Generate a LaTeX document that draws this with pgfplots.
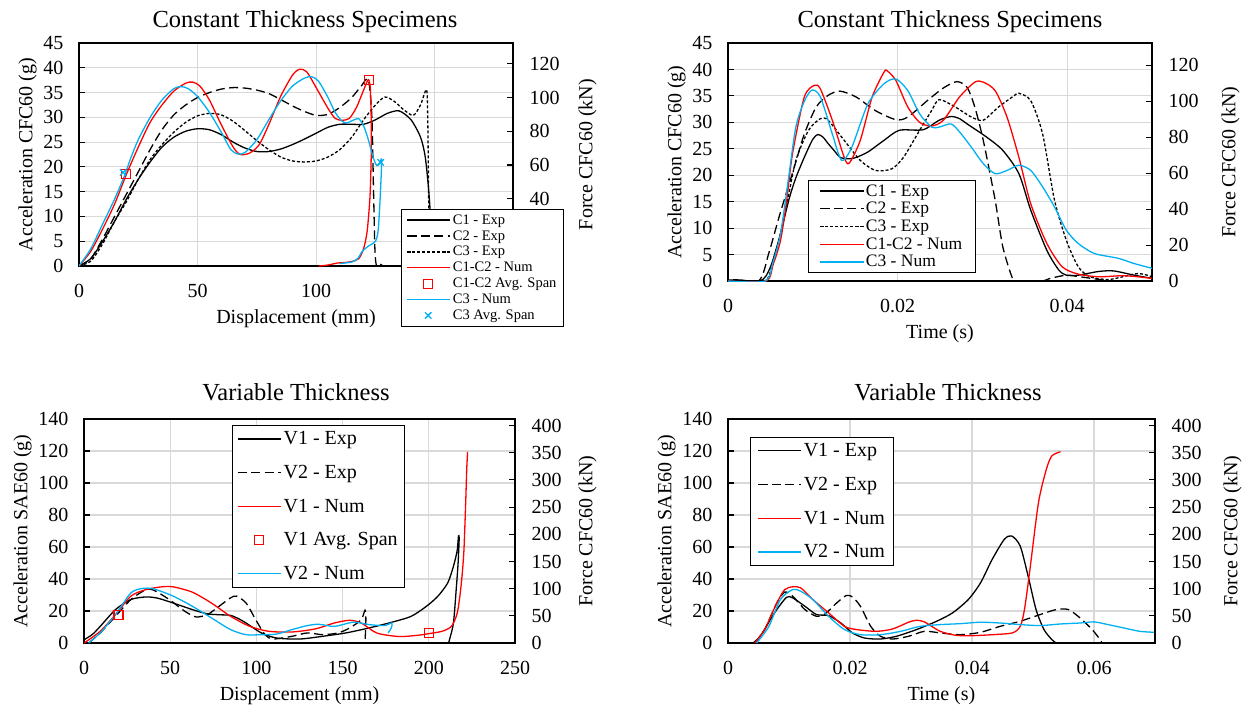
\documentclass[border=0pt]{standalone}
\usepackage{fontspec}
\setmainfont{Liberation Serif}
\usepackage{pgfplots}
\pgfplotsset{compat=1.18}
\definecolor{numred}{HTML}{FF0000}
\definecolor{numcyan}{HTML}{00B0F0}
\definecolor{gridgray}{HTML}{D9D9D9}
\newcommand\fs[2]{\fontsize{#1}{#2}\selectfont}

\pgfplotsset{
  lax/.style={scale only axis, anchor=north west,
    axis line style={line width=1.1pt},
    grid=major, grid style={line width=1.1pt, gridgray},
    xtick style={draw=none}, ytick style={black, line width=1.1pt},
    major tick length=6pt, ytick pos=left,
    tick label style={font=\fs{20}{24}}, label style={font=\fs{20}{24}},
    xticklabel shift=15pt, yticklabel shift=12pt, xlabel shift=5pt,
    /pgf/number format/assume math mode=true},
  rax/.style={scale only axis, anchor=north west,
    axis y line*=right, axis x line=none, xtick=\empty,
    axis line style={line width=1.1pt},
    ytick style={black, line width=1.1pt}, major tick length=6pt,
    tick label style={font=\fs{20}{24}}, label style={font=\fs{20}{24}},
    yticklabel shift=13pt, ylabel shift=12pt,
    legend cell align=left,
    legend style={draw=black, line width=1pt, fill=white, anchor=north west},
    legend image code/.code={\draw[line width=1.3pt,mark repeat=2,mark phase=2,##1]
      plot coordinates {(0pt,0pt) (21pt,0pt) (43pt,0pt)};},
    every axis plot/.append style={line width=1.3pt, smooth, tension=0.45}},
  exp1/.style={black, solid},
  exp2/.style={black, dash pattern=on 9pt off 4.5pt},
  exp3/.style={black, dash pattern=on 3pt off 2pt},
  numr/.style={numred, solid},
  numc/.style={numcyan, solid},
  avgsq/.style={only marks, mark=square, mark size=4.5pt, numred, line width=1.1pt, solid},
  avgx/.style={only marks, mark=x, mark size=4.5pt, numcyan, line width=1.3pt, solid},
}

\begin{document}
\begin{tikzpicture}
\useasboundingbox (0pt,0pt) rectangle (1245pt,-710pt);

% titles
\node[font=\fs{24.5}{28}] at (305pt,-22pt) {Constant Thickness Specimens};
\node[font=\fs{24.5}{28}] at (950pt,-22pt) {Constant Thickness Specimens};
\node[font=\fs{24.5}{28}] at (296pt,-392pt) {Variable Thickness};
\node[font=\fs{24.5}{28}] at (948pt,-392pt) {Variable Thickness};

% ---------- top left ----------
\begin{axis}[lax, at={(79pt,-43pt)}, width=434pt, height=223pt,
  xmin=0, xmax=183, ymin=0, ymax=45,
  xtick={0,50,100,150}, xticklabels={0,50,100,},
  ytick={0,5,...,45},
  xlabel={Displacement (mm)}, ylabel={Acceleration CFC60 (g)}]
\end{axis}
\begin{axis}[rax, at={(79pt,-43pt)}, width=434pt, height=223pt,
  xmin=0, xmax=183, ymin=0, ymax=45,
  ytick={0,6.796,13.592,20.388,27.184,33.98,40.776},
  yticklabels={,,40,60,80,100,120},
  ylabel={Force CFC60 (kN)},
  legend style={at={(0.742,0.2556)}, font=\fs{14.5}{16.5}, row sep=0.8pt, inner xsep=5pt, inner ysep=3pt}]
\addplot[exp1] coordinates {(0,0) (5,1.5) (10,5) (15,9) (20,13.5) (25,17.5) (30,21) (35,24) (40,26) (45,27.2) (50,27.7) (55,27.5) (60,26.5) (65,25) (70,23.8) (75,23.1) (80,23.1) (85,23.6) (90,24.5) (95,25.6) (100,26.8) (105,28) (110,28.6) (115,28.6) (120,28.6) (125,29.5) (130,30.8) (135,31.3) (140,29.5) (144,26) (146,22) (147.5,15) (148.5,8) (149.5,2) (150,0)};
\addlegendentry{C1 - Exp}
\addplot[exp2] coordinates {(0,0) (5,1.5) (10,5.5) (15,10) (20,14.5) (25,19) (30,23.5) (35,27.5) (40,30.5) (45,32.5) (50,34) (55,35) (60,35.7) (65,36) (70,35.9) (75,35.5) (80,34.8) (85,33.6) (90,32.3) (95,31.2) (100,30.4) (105,30.6) (110,32) (115,34) (119,36.3) (122,37.6) (123.5,30) (124.2,15) (124.8,3) (125.5,0) (127,0.4) (128,0)};
\addlegendentry{C2 - Exp}
\addplot[exp3] coordinates {(0,0) (5,1) (10,4.5) (15,9) (20,13) (25,17.5) (30,21.5) (35,24.5) (40,27) (45,29) (50,30.3) (55,30.8) (60,30.5) (65,29.2) (70,27.3) (75,25.3) (80,23.5) (85,22) (90,21.2) (95,21) (100,21.2) (105,22) (110,23.5) (115,26) (120,29.5) (125,32.5) (129,34.1) (133,33.2) (137,31.5) (141,30.4) (144,32.5) (146.5,35.6) (147,31) (147.3,20) (147.5,10) (147.8,0)};
\addlegendentry{C3 - Exp}
\addplot[numr] coordinates {(0,0) (5,3) (10,7.5) (15,12.5) (20,18.5) (25,24) (30,29) (35,32.5) (40,35.3) (45,36.9) (48,37.1) (51,36.3) (55,33.5) (60,28.5) (65,24) (68,22.5) (72,22.8) (76,24.5) (80,28.5) (85,34.2) (90,38.5) (93,39.7) (96,39.2) (100,36) (105,31.8) (108,29.8) (111,29.4) (114,29.8) (117,32) (120,35.5) (122,37.6) (122.8,36) (123.2,30) (123.2,22) (122.7,14) (121.5,7) (120,3.5) (118,1.5) (115,0.9) (112,0.7) (109,0.6) (105,0.2) (101,0)};
\addlegendentry{C1-C2 - Num}
\addplot[avgsq] coordinates {(19.8,18.5) (122.1,37.6)};
\addlegendentry{C1-C2 Avg. Span}
\addplot[numc] coordinates {(0,0) (5,3.5) (10,8.5) (15,13.5) (19,18) (22,22) (25,25.5) (30,30) (35,33.5) (40,35.8) (43,36.2) (46,35.8) (50,34.2) (55,31) (60,27) (64,23.5) (67,22.6) (70,22.9) (75,25.5) (80,29.5) (85,33.3) (90,36.3) (95,37.9) (98,38.2) (101,37.3) (105,34) (108,31) (111,29.2) (113,28.9) (116,29.5) (118,29.7) (120,28.3) (122,25.5) (124,22) (125.5,20.3) (126.8,20.8) (127.6,21.5) (127.4,18) (126.8,12) (126.1,7) (125,5) (122,4) (119.5,3) (117.5,1.5) (115,0.8) (112,0.6) (110,0.5)};
\addlegendentry{C3 - Num}
\addplot[avgx] coordinates {(18.6,18.9) (127.2,20.9)};
\addlegendentry{C3 Avg. Span}
\end{axis}

% ---------- top right ----------
\begin{axis}[lax, at={(728pt,-43pt)}, width=424pt, height=238pt,
  xmin=0, xmax=50, ymin=0, ymax=45,
  xtick={0,20,40}, xticklabels={0,0.02,0.04},
  ytick={0,5,...,45},
  xlabel={Time (s)}, ylabel={Acceleration CFC60 (g)}]
\end{axis}
\begin{axis}[rax, at={(728pt,-43pt)}, width=424pt, height=238pt,
  xmin=0, xmax=50, ymin=0, ymax=45,
  ytick={0,6.796,13.592,20.388,27.184,33.98,40.776},
  yticklabels={0,20,40,60,80,100,120},
  ylabel={Force CFC60 (kN)}, ylabel shift=16pt,
  legend style={at={(0.189,0.424)}, font=\fs{17.5}{20}, row sep=0.6pt, inner xsep=11pt, inner ysep=2pt}]
\addplot[exp1] coordinates {(0,0.2) (1.5,0.2) (2.5,0) (3.8,0) (4.5,1) (5.2,3.5) (6.2,9) (7.2,15.5) (8,19.5) (9,23.4) (10,26.8) (10.6,27.7) (11.2,27.2) (11.8,26) (12.6,24.5) (13.2,23.4) (14.1,23.1) (15,23.3) (16.5,24.4) (18.4,26.6) (20.2,28.5) (23,28.6) (24.9,30.4) (26.3,31.1) (27.3,30.7) (28.2,29.7) (30.5,27.2) (32.4,24.7) (34.3,20.3) (35.7,13.4) (37.6,5.8) (39,2.1) (39.9,1.1) (41.3,1.1) (43.7,1.8) (45.5,1.9) (47.9,1.1) (50,0.5)};
\addlegendentry{C1 - Exp}
\addplot[exp2] coordinates {(0,0) (3.6,0) (4.8,5.2) (6,12) (7.1,17.8) (8,22.5) (9,27.8) (10.4,32.9) (11.8,35.1) (13.2,35.9) (15.1,34.8) (17.4,32.2) (19.8,30.5) (21.2,31) (23.5,34.1) (25.4,36.5) (27,37.7) (28.2,36.6) (29.1,32.9) (30.1,26.6) (31.5,15.3) (32.4,6.5) (33.6,0.3) (34.3,0) (37,0) (38,0.5) (39.9,1.1) (41.5,0.8) (43.7,0.3) (45,0)};
\addlegendentry{C2 - Exp}
\addplot[exp3] coordinates {(0,0) (4.3,0) (5.2,3) (6.2,9) (7,15) (8,22.8) (9.5,28.5) (10.9,30.7) (11.8,30.4) (13.7,26.6) (15.6,22.8) (17.4,20.9) (19.3,21.2) (20.7,23.4) (22.6,28.5) (24,32.2) (24.9,34.3) (26.8,32.9) (28.7,31) (30.1,30.4) (31.9,32.9) (33.8,35.1) (34.3,35.5) (35.7,34.1) (37.1,27.8) (38.5,15.3) (39.9,7.7) (41.3,2.7) (42.7,0.8) (45,0.3) (48.3,1.4) (50,0.8)};
\addlegendentry{C3 - Exp}
\addplot[numr] coordinates {(0,0) (4.5,0) (5.3,3) (6.2,7.7) (6.9,15) (7.6,24) (9,34.8) (10.2,37) (10.9,36.3) (12.3,30.4) (13.7,23.4) (14.3,22.3) (15.6,26.6) (17,34.8) (18.4,39.5) (18.8,39.7) (19.8,37.9) (21.2,32.9) (22.6,30) (24,29.3) (25.4,30.4) (27.3,34.8) (29.1,37.6) (30.1,37.6) (31.5,36) (32.9,31) (34.3,23.4) (35.7,14.6) (37.6,7.1) (39.4,2.7) (41.3,1.3) (43.7,0.8) (46.5,1) (48.3,0.8) (50,0.5)};
\addlegendentry{C1-C2 - Num}
\addplot[numc] coordinates {(0,0) (4.4,0) (5.3,3.5) (6.2,9) (7.1,19) (8,29.1) (9,34) (9.9,36.1) (10.9,34.8) (12.3,27.8) (13.4,22.8) (14.6,25.3) (16.5,33.5) (18.4,37.3) (19.8,38.2) (21.2,36) (22.6,31.6) (24,29.1) (24.9,29.1) (26.3,29.7) (27.3,28.2) (28.7,25.3) (30.1,22.2) (31.5,20.3) (32.9,20.9) (34.3,21.9) (35.7,20.9) (37.1,17.8) (38.5,14) (39.9,9.6) (41.3,7.1) (43.2,5.2) (46,4.3) (47.9,3.3) (50,2.4)};
\addlegendentry{C3 - Num}
\end{axis}

% ---------- bottom left ----------
\begin{axis}[lax, at={(84pt,-419pt)}, width=431pt, height=224pt,
  xmin=0, xmax=250, ymin=0, ymax=140,
  xtick={0,50,...,250}, ytick={0,20,...,140},
  xlabel={Displacement (mm)}, ylabel={Acceleration SAE60 (g)}]
\end{axis}
\begin{axis}[rax, at={(84pt,-419pt)}, width=431pt, height=224pt,
  xmin=0, xmax=250, ymin=0, ymax=140,
  ytick={0,16.99,33.98,50.97,67.96,84.95,101.94,118.93,135.92},
  yticklabels={0,50,100,150,200,250,300,350,400},
  ylabel={Force CFC60 (kN)}, ylabel shift=10pt,
  legend style={at={(0.343,0.973)}, font=\fs{20}{24}, row sep=15pt, inner xsep=5pt, inner ysep=4pt}]
\addplot[exp1] coordinates {(0,2) (5,5.5) (9.4,10.4) (18.3,20.9) (27.2,27.2) (36,28.8) (42.8,28) (51.7,25) (62.8,20.9) (71.7,18.2) (80,17.6) (85,17.3) (90,15) (94,12.5) (102.9,6.3) (111.8,3.1) (125.2,2.5) (138.5,4.2) (151.9,6.3) (165.3,9.4) (178.6,13) (189.8,16.7) (198.7,23) (205.3,29.3) (211,37.6) (214.3,48) (216.5,58) (217.2,66.9) (217.6,65) (217,50) (216,35) (214.3,12.5) (212,2.1) (211.5,0)};
\addlegendentry{V1 - Exp}
\addplot[exp2] coordinates {(2.7,0) (9.4,6.3) (18.3,16.7) (27.2,27.2) (36,33.4) (40.5,33) (49.4,27.2) (58.4,19.9) (65,16.3) (71.7,17.8) (78.4,23) (85,28.2) (88.4,29.3) (94,25) (99.6,14.6) (105,5.2) (109.6,2.5) (120.7,4.2) (129.6,6.3) (138.5,5.2) (147.4,6.3) (154.1,9.4) (160.8,14.6) (163,20.5) (163.5,15) (163.2,5) (163,0)};
\addlegendentry{V2 - Exp}
\addplot[numr] coordinates {(0,0) (9.4,7.3) (18.3,17.8) (27.2,29.3) (36,33.4) (45,35.1) (51.7,35.1) (62.8,31.8) (73.9,25) (85,16.7) (96.2,10.4) (107.3,7.3) (120.7,6.9) (134.1,8.8) (145.2,12.5) (154.1,14.2) (160.8,12.5) (169.7,6.3) (180.8,4.2) (187.5,4.2) (196.4,5.2) (200.2,5.9) (207.6,7.3) (213.1,10.4) (216.5,18.8) (218.7,35.5) (220.3,56.4) (221.4,87.8) (222,108.7) (222.5,119.5)};
\addlegendentry{V1 - Num}
\addplot[avgsq] coordinates {(20,17.6) (200.2,6)};
\addlegendentry{V1 Avg. Span}
\addplot[numc] coordinates {(2.7,0) (9.4,6.3) (18.3,17.8) (27.2,31.3) (33.9,34.1) (40.5,33.8) (51.7,29.3) (62.8,23) (73.9,15.7) (85,8.4) (94,5.2) (102.9,5.2) (111.8,5.6) (120.7,8.4) (129.6,10.9) (136.3,11.7) (145.2,10.4) (156.3,13) (165.3,11.5) (174.2,10.9) (178.6,12.5) (178.2,9.4) (176.4,6.3)};
\addlegendentry{V2 - Num}
\end{axis}

% ---------- bottom right ----------
\begin{axis}[lax, at={(728pt,-419pt)}, width=427pt, height=224pt,
  xmin=0, xmax=70, ymin=0, ymax=140,
  xtick={0,20,40,60}, xticklabels={0,0.02,0.04,0.06},
  ytick={0,20,...,140},
  xlabel={Time (s)}, ylabel={Acceleration SAE60 (g)}]
\end{axis}
\begin{axis}[rax, at={(728pt,-419pt)}, width=427pt, height=224pt,
  xmin=0, xmax=70, ymin=0, ymax=140,
  ytick={0,16.99,33.98,50.97,67.96,84.95,101.94,118.93,135.92},
  yticklabels={0,50,100,150,200,250,300,350,400},
  ylabel={Force CFC60 (kN)}, ylabel shift=15pt,
  legend style={at={(0.0515,0.92)}, font=\fs{20}{24}, row sep=15pt, inner xsep=7pt, inner ysep=4pt}]
\addplot[exp1] coordinates {(4.1,0) (5,3) (6,8.4) (7,15) (8,20.9) (9.6,28.6) (10.6,28.2) (12.6,23) (14.5,17.8) (16.5,17.1) (18.5,12.5) (20.4,6.3) (22.4,3.1) (25,2.5) (27.6,4.2) (30.9,8.4) (34.2,13.6) (36.8,18.8) (39.4,27.2) (41.4,37.6) (43.3,52.2) (45.3,64.8) (46.5,66.9) (47.9,60.6) (49.2,41.8) (50.5,20.9) (51.8,8.4) (53.1,2.1) (53.8,0)};
\addlegendentry{V1 - Exp}
\addplot[exp2] coordinates {(4.4,0) (6,8.4) (8,25) (9.3,31.8) (10.6,29.3) (12.6,20.9) (14.5,16.7) (15.8,17.8) (17.8,25) (19.4,29.7) (20.4,28.8) (21.7,23) (23.4,10.4) (25,4.2) (27,2.5) (29.6,4.2) (32.2,7.3) (34.8,6.3) (38.1,5.2) (41.4,6.7) (44.6,10.4) (47.9,13.6) (51.2,17.8) (53.8,20.9) (55.8,20.9) (57.7,15.7) (59.7,8.4) (61,2.1) (61.3,0)};
\addlegendentry{V2 - Exp}
\addplot[numr] coordinates {(4.4,0) (6,8.4) (8,25) (9.3,33.4) (10.6,35.1) (11.9,34.5) (13.9,27.2) (16.5,18.8) (19.1,10.4) (21.1,8.4) (24.3,7.3) (27,8.8) (29.6,13) (30.9,14.2) (32.2,13.2) (34.8,7.3) (37.4,4.8) (40.1,4.6) (43.3,5.2) (46.6,6.3) (47.9,10.4) (48.6,20.9) (49.5,46) (50.9,87.8) (52.2,108.7) (53.1,117) (54.5,119.5)};
\addlegendentry{V1 - Num}
\addplot[numc] coordinates {(4.7,0) (6.7,10.4) (8.6,27.2) (10.6,33.4) (11.9,32.4) (13.9,27.2) (16.5,16.7) (19.1,8.4) (21.7,5.2) (25,5.2) (28.3,7.3) (31.5,10.4) (34.8,11.5) (38.1,12.1) (41.4,13) (44.6,12.5) (47.9,11.5) (51.2,10.9) (54.5,11.9) (57.7,12.5) (60,13.2) (62.3,11.5) (64.9,9.4) (67.5,7.3) (69.8,6.7)};
\addlegendentry{V2 - Num}
\end{axis}
\end{tikzpicture}
\end{document}
